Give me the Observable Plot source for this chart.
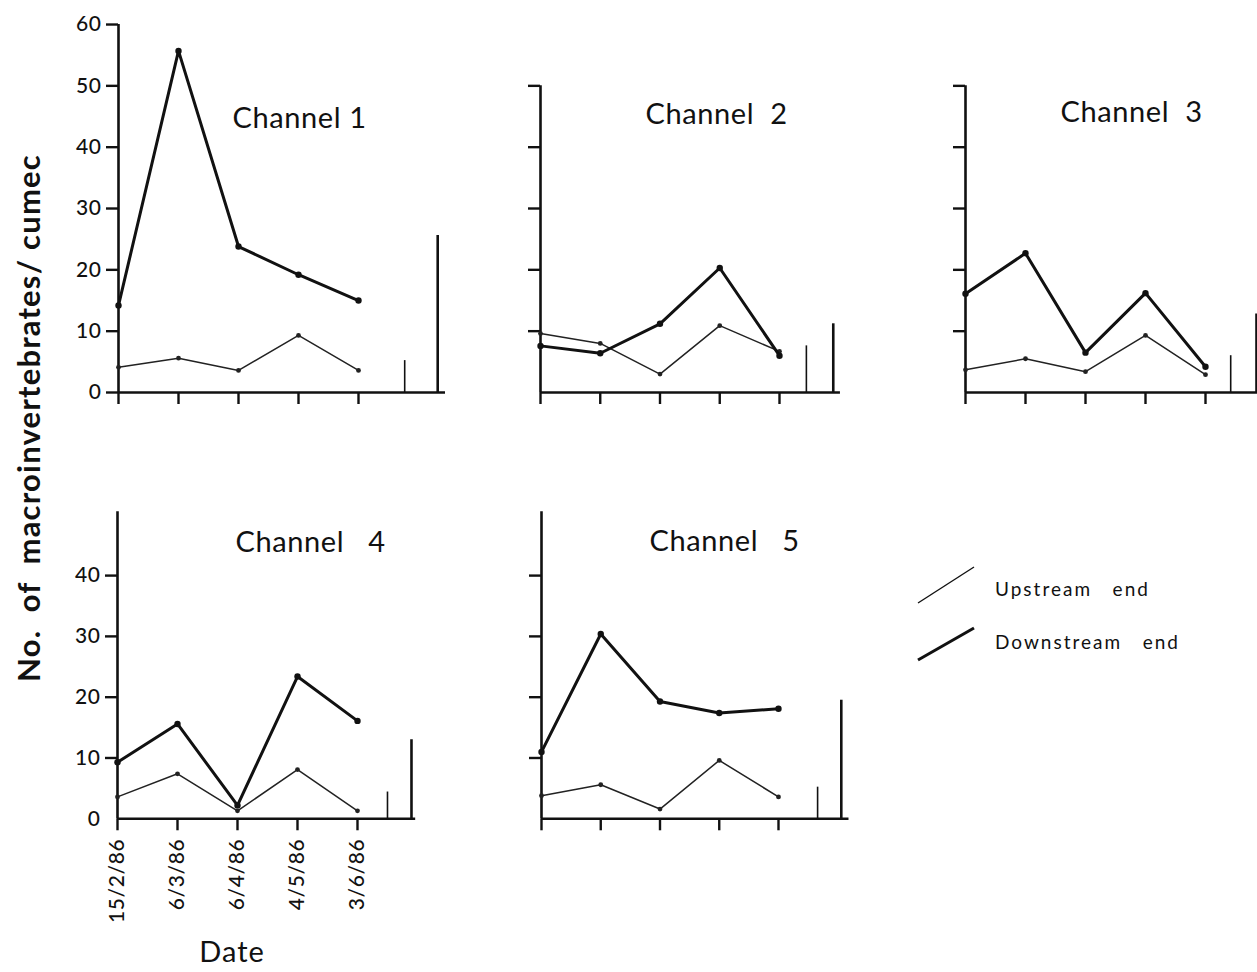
<!DOCTYPE html>
<html><head><meta charset="utf-8">
<script src="https://cdn.jsdelivr.net/npm/d3@7"></script>
<script src="https://cdn.jsdelivr.net/npm/@observablehq/plot@0.6"></script>
<style>
body{margin:0;background:#fff;}
#fig{position:relative;width:1257px;height:972px;overflow:hidden;font-family:Lato,"DejaVu Sans",sans-serif;color:#111;background:#fff;}
#fig svg{position:absolute;}
.lbl{position:absolute;white-space:pre;color:#111;font-family:Lato,"DejaVu Sans",sans-serif;}
</style></head><body><div id="fig"></div>
<script>
// ---- data ----
const dates = ["15/2/86","6/3/86","6/4/86","4/5/86","3/6/86"];
const channelTitles = ["Channel 1","Channel  2","Channel  3","Channel   4","Channel   5"];
const ch1Up = [4.1,5.6,3.6,9.3,3.6];
const ch1Down = [14.2,55.7,23.8,19.2,15.0];
const ch2Up = [9.6,8.0,3.0,10.9,6.7];
const ch2Down = [7.6,6.4,11.2,20.3,6.0];
const ch3Up = [3.7,5.5,3.4,9.3,2.9];
const ch3Down = [16.1,22.7,6.5,16.2,4.2];
const ch4Up = [3.6,7.4,1.3,8.1,1.3];
const ch4Down = [9.3,15.6,2.2,23.4,16.1];
const ch5Up = [3.8,5.6,1.6,9.6,3.6];
const ch5Down = [11.0,30.4,19.3,17.4,18.1];
const summaryUp = [5.2,7.6,6.0,4.4,5.2];
const summaryDown = [25.6,11.2,12.8,13.0,19.5];
const legendLabels = ["Upstream   end","Downstream   end"];

const upSeries = [ch1Up,ch2Up,ch3Up,ch4Up,ch5Up];
const downSeries = [ch1Down,ch2Down,ch3Down,ch4Down,ch5Down];

// ---- layout (page pixels) ----
const layout = [
  {left:118, dx:60,    zero:392,   unit:6.133, top:0,   axisTop:60,   yTicks:[0,10,20,30,40,50,60], yLabels:true,  xEnd:5.45, bars:[4.77,5.32], tx:232,  ty:118},
  {left:540, dx:59.75, zero:392,   unit:6.133, top:0,   axisTop:50,   yTicks:[10,20,30,40,50],      yLabels:false, xEnd:5.02, bars:[4.45,4.9],  tx:645,  ty:114},
  {left:965, dx:60,    zero:392,   unit:6.133, top:0,   axisTop:50,   yTicks:[10,20,30,40,50],      yLabels:false, xEnd:5.4,  bars:[4.42,4.85], tx:1060, ty:112},
  {left:117, dx:60,    zero:818.3, unit:6.08,  top:440, axisTop:50.5, yTicks:[10,20,30,40],         yLabels:true,  xEnd:4.97, bars:[4.5,4.9],   tx:235,  ty:542, zeroLabel:true, dates:true},
  {left:541, dx:59.25, zero:818.3, unit:6.08,  top:440, axisTop:50.5, yTicks:[10,20,30,40],         yLabels:false, xEnd:5.19, bars:[4.66,5.06], tx:649,  ty:541}
];

const fig = document.getElementById("fig");
const FONT = 'Lato, "DejaVu Sans", sans-serif';

layout.forEach((L, k) => {
  const mL = 75, mR = 8;
  const svgH = L.top === 0 ? 430 : 532;
  const zeroIn = L.zero - L.top;
  const marginTop = zeroIn - 60 * L.unit;
  const marginBottom = svgH - zeroIn;
  const width = mL + L.xEnd * L.dx + mR;
  const up = upSeries[k].map((v, i) => ({i, v}));
  const down = downSeries[k].map((v, i) => ({i, v}));
  const bars = [
    {pos: L.bars[0], v: summaryUp[k], w: 1.6},
    {pos: L.bars[1], v: summaryDown[k], w: 2.6}
  ];
  const marks = [
    Plot.ruleX([0], {y1: 0, y2: L.axisTop, strokeWidth: 2.6, stroke: "#111"}),
    Plot.ruleY([0], {x1: 0, x2: L.xEnd, strokeWidth: 2.6, stroke: "#111"}),
    Plot.axisY({ticks: L.yTicks, tickSize: 12, tickPadding: 5, strokeWidth: 2.4, fontSize: 21, fontWeight: 500,
      tickFormat: L.yLabels ? (d => String(d)) : (() => ""), label: null, fill: "#111"}),
    Plot.axisX({ticks: [0,1,2,3,4], tickSize: 12, tickPadding: 8, strokeWidth: 2.4, fontSize: 21, fontWeight: 500,
      tickFormat: L.dates ? (i => dates[i]) : (() => ""), tickRotate: L.dates ? -90 : 0, label: null, fill: "#111"}),
    Plot.ruleX(bars, {x: "pos", y1: 0, y2: "v", strokeWidth: "w", stroke: "#111"}),
    Plot.line(up, {x: "i", y: "v", strokeWidth: 1.5, stroke: "#222"}),
    Plot.dot(up, {x: "i", y: "v", r: 2.4, fill: "#222", stroke: "none"}),
    Plot.line(down, {x: "i", y: "v", strokeWidth: 3, stroke: "#111"}),
    Plot.dot(down, {x: "i", y: "v", r: 3.2, fill: "#111", stroke: "none"}),
    Plot.text([channelTitles[k]], {frameAnchor: "top-left", dx: L.tx - L.left, dy: L.ty - (L.top + marginTop),
      textAnchor: "start", lineAnchor: "middle", fontSize: 29, fill: "#111"})
  ];
  if (L.zeroLabel) {
    marks.push(Plot.axisY({ticks: [0], tickSize: 0, tickPadding: 17, fontSize: 21, fontWeight: 500, tickFormat: d => String(d), label: null, fill: "#111"}));
  }
  const svg = Plot.plot({
    width, height: svgH,
    marginLeft: mL, marginRight: mR, marginTop, marginBottom,
    x: {domain: [0, L.xEnd], axis: null},
    y: {domain: [0, 60], axis: null},
    style: {background: "transparent", fontFamily: FONT, overflow: "visible", color: "#111", letterSpacing: "0.6px"},
    marks
  });
  svg.style.left = (L.left - mL) + "px";
  svg.style.top = L.top + "px";
  fig.appendChild(svg);
});

// y label
const yl = document.createElement("div");
yl.className = "lbl";
yl.textContent = "No.  of  macroinvertebrates/ cumec";
yl.style.cssText += "left:28px;top:418px;font-size:31px;font-weight:700;letter-spacing:1.2px;transform:translate(-50%,-50%) rotate(-90deg);";
fig.appendChild(yl);

const xl = document.createElement("div");
xl.className = "lbl";
xl.textContent = "Date";
xl.style.cssText += "left:232px;top:950px;font-size:29px;letter-spacing:1px;transform:translate(-50%,-50%);";
fig.appendChild(xl);

// legend
const leg = d3.create("svg").attr("width", 340).attr("height", 120).style("left", "910px").style("top", "560px");
const legRows = [{y1: 43, y2: 7, w: 1.4}, {y1: 100, y2: 68, w: 3}];
legRows.forEach((r, j) => {
  leg.append("line").attr("x1", 8).attr("x2", 64).attr("y1", r.y1).attr("y2", r.y2).attr("stroke", "#111").attr("stroke-width", r.w);
  leg.append("text").attr("x", 85).attr("y", 31 + j * 53).attr("dominant-baseline", "middle")
    .attr("font-size", 19).attr("font-family", FONT).attr("fill", "#111").style("white-space", "pre").style("letter-spacing", "2px").text(legendLabels[j]);
});
fig.appendChild(leg.node());
</script></body></html>
